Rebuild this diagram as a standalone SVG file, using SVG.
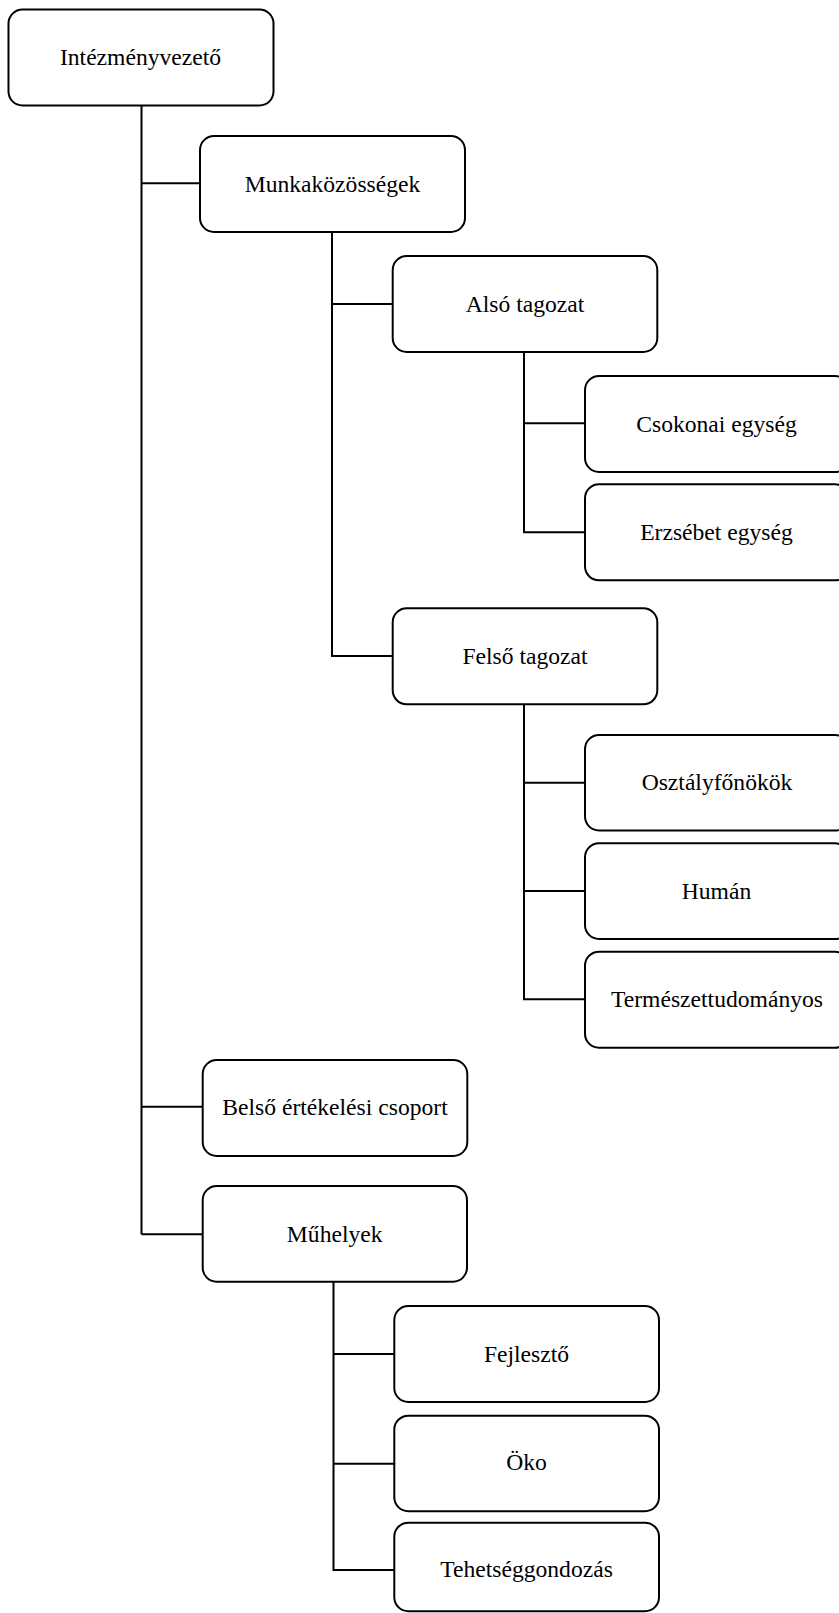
<svg xmlns="http://www.w3.org/2000/svg" width="839" height="1613" viewBox="0 0 839 1613">
<style>
.box{fill:#fff;stroke:#000;stroke-width:2}
.lbl{font-family:"Liberation Serif","Times New Roman",serif;font-size:23.6px;fill:#000;text-anchor:middle}
.con{fill:none;stroke:#000;stroke-width:2}
</style>
<rect width="839" height="1613" fill="#fff"/>
<g id="connectors">
<path class="con" d="M141.5,105.5V1234.3M141.5,183.3H200M141.5,1106.7H202.7M141.5,1234.3H202.7"/>
<path class="con" d="M332,232V656H392.7M332,304H392.7"/>
<path class="con" d="M524,352V532.3H585M524,423.3H585"/>
<path class="con" d="M524,704.3V999.3H585M524,782.7H585M524,891H585"/>
<path class="con" d="M333.5,1282V1570H394.3M333.5,1354H394.3M333.5,1463.7H394.3"/>
</g>
<g id="n1"><rect class="box" x="8.5" y="9.5" width="265" height="96" rx="14"/><text class="lbl" x="140.5" y="65">Intézményvezető</text></g>
<g id="n2"><rect class="box" x="200" y="136" width="265" height="96" rx="14"/><text class="lbl" x="332.5" y="192">Munkaközösségek</text></g>
<g id="n3"><rect class="box" x="392.7" y="256" width="264.6" height="96" rx="14"/><text class="lbl" x="525" y="312">Alsó tagozat</text></g>
<g id="n4"><rect class="box" x="585" y="376" width="264" height="96" rx="14"/><text class="lbl" x="716.5" y="432">Csokonai egység</text></g>
<g id="n5"><rect class="box" x="585" y="484.3" width="264" height="96" rx="14"/><text class="lbl" x="716.5" y="540">Erzsébet egység</text></g>
<g id="n6"><rect class="box" x="392.7" y="608.3" width="264.6" height="96" rx="14"/><text class="lbl" x="525" y="664">Felső tagozat</text></g>
<g id="n7"><rect class="box" x="585" y="735" width="264" height="95.5" rx="14"/><text class="lbl" x="717" y="790">Osztályfőnökök</text></g>
<g id="n8"><rect class="box" x="585" y="843.3" width="264" height="95.7" rx="14"/><text class="lbl" x="716.5" y="898.5">Humán</text></g>
<g id="n9"><rect class="box" x="585" y="951.7" width="264" height="96" rx="14"/><text class="lbl" x="717" y="1007">Természettudományos</text></g>
<g id="n10"><rect class="box" x="202.7" y="1060" width="264.6" height="96" rx="14"/><text class="lbl" x="335" y="1115">Belső értékelési csoport</text></g>
<g id="n11"><rect class="box" x="202.7" y="1186" width="264.3" height="95.7" rx="14"/><text class="lbl" x="334.7" y="1241.7">Műhelyek</text></g>
<g id="n12"><rect class="box" x="394.3" y="1306" width="264.7" height="96" rx="14"/><text class="lbl" x="526.5" y="1361.7">Fejlesztő</text></g>
<g id="n13"><rect class="box" x="394.3" y="1415.7" width="264.7" height="95.5" rx="14"/><text class="lbl" x="526.5" y="1470">Öko</text></g>
<g id="n14"><rect class="box" x="394.3" y="1522.7" width="264.7" height="88.5" rx="14"/><text class="lbl" x="526.5" y="1577.3">Tehetséggondozás</text></g>
</svg>
